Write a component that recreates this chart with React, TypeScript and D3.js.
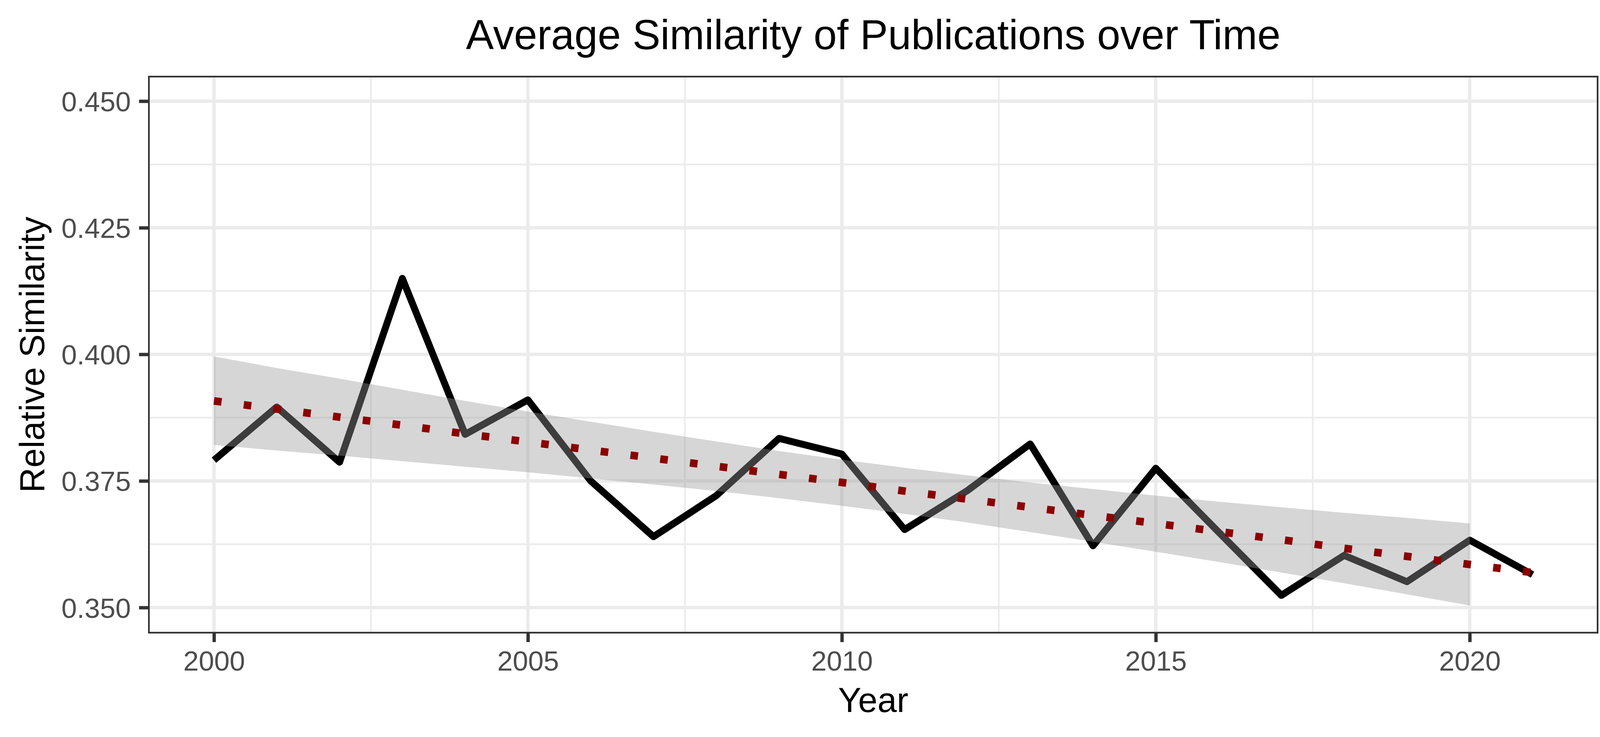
import React, { useRef, useEffect } from 'react';
import * as d3 from 'd3';

// Chart data
const years = [2000, 2001, 2002, 2003, 2004, 2005, 2006, 2007, 2008, 2009, 2010,
  2011, 2012, 2013, 2014, 2015, 2016, 2017, 2018, 2019, 2020, 2021];
const similarity = [0.3791, 0.3896, 0.3787, 0.4150, 0.3842, 0.3910, 0.3750, 0.3640,
  0.3721, 0.3834, 0.3803, 0.3654, 0.3731, 0.3823, 0.3622, 0.3775, 0.3649, 0.3524,
  0.3603, 0.3551, 0.3633, 0.3565];
const trend = [0.3908, 0.3892, 0.3876, 0.3860, 0.3843, 0.3827, 0.3811, 0.3795,
  0.3779, 0.3763, 0.3747, 0.3730, 0.3714, 0.3698, 0.3682, 0.3666, 0.3650, 0.3634,
  0.3617, 0.3601, 0.3585, 0.3569];
const bandYears = [2000, 2001, 2002, 2003, 2004, 2005, 2006, 2007, 2008, 2009, 2010,
  2011, 2012, 2013, 2014, 2015, 2016, 2017, 2018, 2019, 2020];
const bandUpper = [0.3996, 0.3973, 0.3952, 0.3930, 0.3908, 0.3887, 0.3867, 0.3847,
  0.3828, 0.3809, 0.3792, 0.3776, 0.3761, 0.3747, 0.3734, 0.3721, 0.3709, 0.3698,
  0.3687, 0.3677, 0.3666];
const bandLower = [0.3821, 0.3810, 0.3800, 0.3789, 0.3778, 0.3767, 0.3755, 0.3743,
  0.3730, 0.3716, 0.3701, 0.3685, 0.3668, 0.3649, 0.3630, 0.3610, 0.3590, 0.3569,
  0.3548, 0.3526, 0.3504];
const xTicks = [2000, 2005, 2010, 2015, 2020];
const xMinor = [2002.5, 2007.5, 2012.5, 2017.5];
const yTicks = [0.35, 0.375, 0.4, 0.425, 0.45];
const yMinor = [0.3625, 0.3875, 0.4125, 0.4375];

const W = 4137;
const H = 1887;
const FONT = '"Liberation Sans", Arial, Helvetica, sans-serif';

export default function App() {
  const svgRef = useRef<SVGSVGElement>(null);

  useEffect(() => {
    if (!svgRef.current) return;
    const svg = d3.select(svgRef.current);
    svg.selectAll('*').remove();

    const margin = { top: 194, right: W - 4092, bottom: H - 1622, left: 379 };
    const innerW = W - margin.left - margin.right;
    const innerH = H - margin.top - margin.bottom;

    // ggplot-like 5% expansion on both axes
    const x = d3.scaleLinear().domain([1998.95, 2022.05]).range([0, innerW]);
    const y = d3.scaleLinear().domain([0.34487, 0.45501]).range([innerH, 0]);

    const g = svg.append('g').attr('transform', `translate(${margin.left},${margin.top})`);

    // minor grid
    g.append('g').selectAll('line').data(yMinor).join('line')
      .attr('x1', 0).attr('x2', innerW)
      .attr('y1', d => y(d)).attr('y2', d => y(d))
      .attr('stroke', '#ebebeb').attr('stroke-width', 4.3);
    g.append('g').selectAll('line').data(xMinor).join('line')
      .attr('y1', 0).attr('y2', innerH)
      .attr('x1', d => x(d)).attr('x2', d => x(d))
      .attr('stroke', '#ebebeb').attr('stroke-width', 4.3);

    // major grid
    g.append('g').selectAll('line').data(yTicks).join('line')
      .attr('x1', 0).attr('x2', innerW)
      .attr('y1', d => y(d)).attr('y2', d => y(d))
      .attr('stroke', '#ebebeb').attr('stroke-width', 8.6);
    g.append('g').selectAll('line').data(xTicks).join('line')
      .attr('y1', 0).attr('y2', innerH)
      .attr('x1', d => x(d)).attr('x2', d => x(d))
      .attr('stroke', '#ebebeb').attr('stroke-width', 8.6);

    // main series
    const line = d3.line<number>()
      .x((_, i) => x(years[i]))
      .y(d => y(d));
    g.append('path')
      .datum(similarity)
      .attr('d', line)
      .attr('fill', 'none')
      .attr('stroke', '#000000')
      .attr('stroke-width', 17.8)
      .attr('stroke-linejoin', 'round')
      .attr('stroke-linecap', 'butt');

    // confidence band
    const area = d3.area<number>()
      .x((_, i) => x(bandYears[i]))
      .y0((_, i) => y(bandLower[i]))
      .y1(d => y(d));
    g.append('path')
      .datum(bandUpper)
      .attr('d', area)
      .attr('fill', '#999999')
      .attr('fill-opacity', 0.4);

    // linear trend (dotted)
    const trendLine = d3.line<number>()
      .x((_, i) => x(years[i]))
      .y(d => y(d));
    g.append('path')
      .datum(trend)
      .attr('d', trendLine)
      .attr('fill', 'none')
      .attr('stroke', '#8b0000')
      .attr('stroke-width', 19.5)
      .attr('stroke-dasharray', '19.5 57.3')
      .attr('stroke-linecap', 'butt');

    // panel border (clipped half inside)
    g.append('rect')
      .attr('x', 2.15).attr('y', 2.15)
      .attr('width', innerW - 4.3).attr('height', innerH - 4.3)
      .attr('fill', 'none')
      .attr('stroke', '#333333')
      .attr('stroke-width', 4.3);

    // axes
    const xAxis = g.append('g')
      .attr('transform', `translate(0,${innerH})`)
      .call(d3.axisBottom(x).tickValues(xTicks).tickSize(22).tickPadding(18).tickFormat(d3.format('d')));
    xAxis.select('.domain').remove();
    xAxis.selectAll('line').attr('stroke', '#333333').attr('stroke-width', 8.6);
    xAxis.selectAll('text')
      .attr('fill', '#4d4d4d')
      .style('font-family', FONT)
      .style('font-size', '71px')
      .attr('y', 95)
      .attr('dy', null);

    const yAxis = g.append('g')
      .call(d3.axisLeft(y).tickValues(yTicks).tickSize(23).tickPadding(21).tickFormat(d3.format('.3f')));
    yAxis.select('.domain').remove();
    yAxis.selectAll('line').attr('stroke', '#333333').attr('stroke-width', 8.6);
    yAxis.selectAll('text')
      .attr('fill', '#4d4d4d')
      .style('font-family', FONT)
      .style('font-size', '71px')
      .attr('dy', '0.36em');

    // titles
    svg.append('text')
      .attr('x', margin.left + innerW / 2)
      .attr('y', 126)
      .attr('text-anchor', 'middle')
      .style('font-family', FONT)
      .style('font-size', '107px')
      .attr('fill', '#000000')
      .text('Average Similarity of Publications over Time');

    svg.append('text')
      .attr('x', margin.left + innerW / 2)
      .attr('y', 1823)
      .attr('text-anchor', 'middle')
      .style('font-family', FONT)
      .style('font-size', '89px')
      .attr('fill', '#000000')
      .text('Year');

    svg.append('text')
      .attr('transform', `translate(113,${margin.top + innerH / 2}) rotate(-90)`)
      .attr('text-anchor', 'middle')
      .style('font-family', FONT)
      .style('font-size', '89px')
      .attr('fill', '#000000')
      .text('Relative Similarity');
  }, []);

  return (
    <div>
      <style>{'body{margin:0;background:#ffffff}'}</style>
      <svg ref={svgRef} width={W} height={H} style={{ display: 'block', background: '#ffffff' }} />
    </div>
  );
}
